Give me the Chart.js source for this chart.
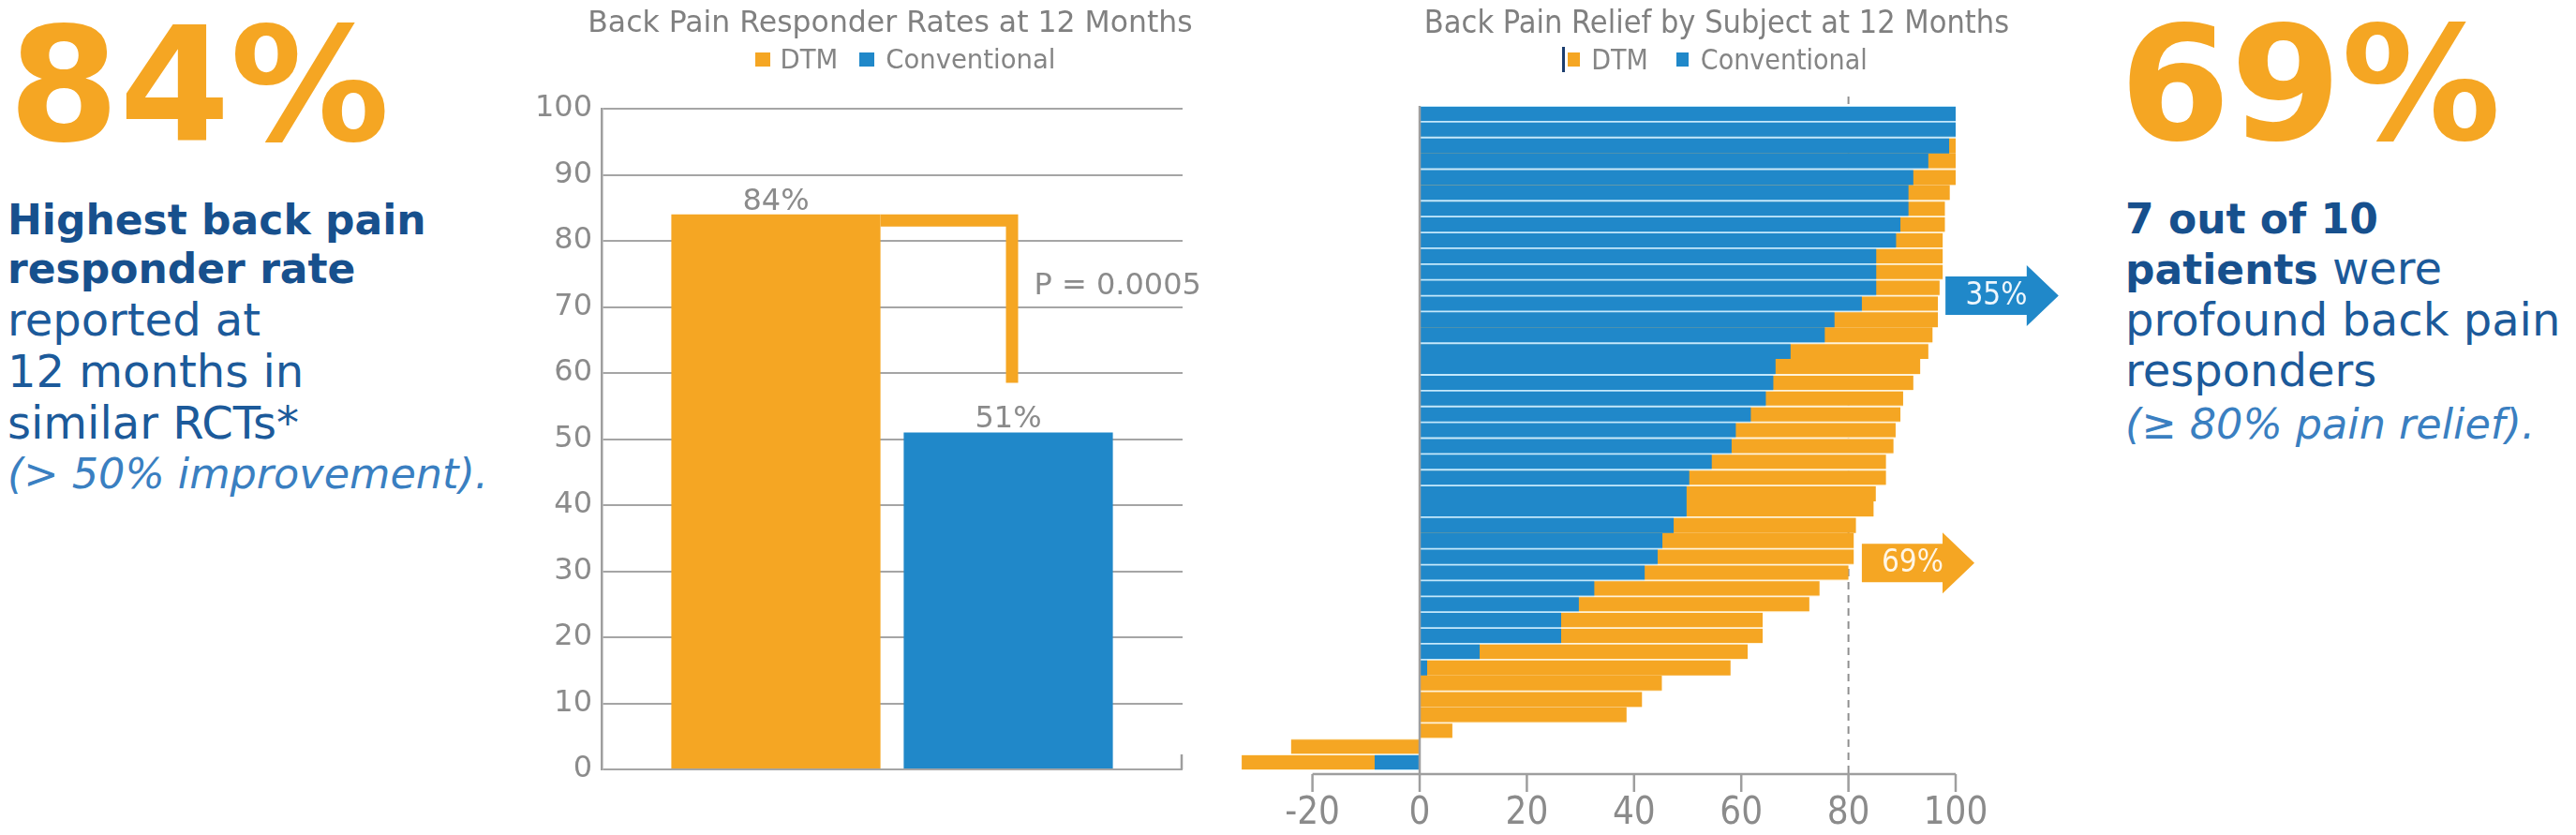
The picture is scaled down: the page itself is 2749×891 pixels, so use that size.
<!DOCTYPE html>
<html>
<head>
<meta charset="utf-8">
<title>Back pain responder rates and relief by subject</title>
<script src="https://cdn.jsdelivr.net/npm/chart.js@4.4.1/dist/chart.umd.min.js"></script>
<style>
  html, body { margin: 0; padding: 0; background: #fff; }
  body { position: relative; width: 2749px; height: 891px; overflow: hidden; font-family: 'DejaVu Sans', sans-serif; }
  .abs { position: absolute; white-space: nowrap; z-index: 2; }
  .big { font-weight: bold; font-size: 170px; line-height: 170px; color: #f5a623; }
  .b { font-weight: bold; font-size: 44px; line-height: 44px; color: #17508d; }
  .r { font-size: 48px; line-height: 48px; color: #1c5a9a; }
  .r .b { font-size: 44px; }
  .i { font-style: italic; font-size: 44.5px; line-height: 44.5px; color: #3a7fc1; }
  .title { color: #808080; text-align: center; }
  .legend { display: flex; justify-content: center; align-items: center; height: 30px; color: #858585; }
  .sq { display: inline-block; }
  canvas { position: absolute; top: 0; z-index: 1; }
</style>
</head>
<body>

<!-- left call-out -->
<div class="abs big" style="left:9px; top:6px;">84%</div>
<div class="abs b" style="left:8px; top:213px;">Highest back pain</div>
<div class="abs b" style="left:8px; top:265px;">responder rate</div>
<div class="abs r" style="left:8px; top:317px;">reported at</div>
<div class="abs r" style="left:8px; top:372px;">12 months in</div>
<div class="abs r" style="left:8px; top:427px;">similar RCTs*</div>
<div class="abs i" style="left:8px; top:484px;">(&gt; 50% improvement).</div>

<!-- chart 1 heading -->
<div class="abs title" style="left:560px; width:780px; top:8px; font-size:31.5px; line-height:31.5px;">Back Pain Responder Rates at 12 Months</div>
<div class="abs legend" style="left:566px; width:800px; top:48px; font-size:27.5px;">
  <span class="sq" style="width:16px; height:15px; background:#f5a623;"></span>
  <span style="margin-left:11px;">DTM</span>
  <span class="sq" style="width:16px; height:15px; background:#2088c9; margin-left:23px;"></span>
  <span style="margin-left:12px;">Conventional</span>
</div>

<!-- chart 2 heading -->
<div class="abs title" style="left:1432px; width:800px; top:6px; font-family:'DejaVu Sans Condensed', 'DejaVu Sans', sans-serif; font-size:34px; line-height:34px;">Back Pain Relief by Subject at 12 Months</div>
<div class="abs legend" style="left:1430px; width:800px; top:48px; font-family:'DejaVu Sans Condensed', 'DejaVu Sans', sans-serif; font-size:30px;">
  <span class="sq" style="width:3px; height:27px; background:#1b3d6e;"></span>
  <span class="sq" style="width:13px; height:15px; background:#f5a623; margin-left:3px;"></span>
  <span style="margin-left:12px;">DTM</span>
  <span class="sq" style="width:13px; height:15px; background:#2088c9; margin-left:30px;"></span>
  <span style="margin-left:13px;">Conventional</span>
</div>

<!-- right call-out -->
<div class="abs big" style="left:2262px; top:5px;">69%</div>
<div class="abs b" style="left:2268px; top:212px;">7 out of 10</div>
<div class="abs r" style="left:2268px; top:262px;"><span class="b">patients</span> were</div>
<div class="abs r" style="left:2268px; top:317px;">profound back pain</div>
<div class="abs r" style="left:2268px; top:371px;">responders</div>
<div class="abs i" style="left:2268px; top:431px;">(≥ 80% pain relief).</div>

<canvas id="responderChart" width="760" height="891" style="left:560px;"></canvas>
<canvas id="reliefChart" width="950" height="891" style="left:1300px;"></canvas>

<script>
// ---- data: responder rates ----
const responderGroups = ['12 Months'];
const responderDTM = [84];
const responderConventional = [51];
const responderTicks = [0, 10, 20, 30, 40, 50, 60, 70, 80, 90, 100];
const pValueText = 'P = 0.0005';

// ---- data: relief by subject (rows top to bottom, % relief) ----
const reliefDTM = [
  100, 100, 100, 100, 100, 98.9, 98.0, 98.0, 97.6, 97.6,
  97.6, 97.0, 96.7, 96.7, 95.7, 94.9, 93.4, 92.1, 90.2, 89.7,
  88.8, 88.4, 87.0, 87.0, 85.1, 84.7, 81.4, 81.0, 81.0, 80.0,
  74.6, 72.7, 64.0, 64.0, 61.2, 58.0, 45.2, 41.5, 38.6, 6.1,
  -24.0, -33.2
];
const reliefConventional = [
  100, 100, 98.8, 94.9, 92.1, 91.2, 91.2, 89.7, 88.9, 85.2,
  85.2, 85.2, 82.5, 77.4, 75.6, 69.2, 66.4, 66.0, 64.6, 61.8,
  59.0, 58.2, 54.5, 50.3, 49.8, 49.8, 47.4, 45.3, 44.4, 42.0,
  32.6, 29.7, 26.4, 26.4, 11.2, 1.4, 0, 0, 0, 0,
  0, -8.4
];
const subjectLabels = reliefDTM.map((_, i) => 'Subject ' + (i + 1));
const reliefTicks = [-20, 0, 20, 40, 60, 80, 100];
const profoundThreshold = 80;
const conventionalShare = '35%';
const dtmShare = '69%';

// ---- styles ----
const ORANGE = '#f5a623';
const BLUE = '#2088c9';
const GREY_TEXT = '#8b8b8b';
const GREY_LINE = '#9e9e9e';

// rows (1-based) drawn flush against the row below, as in the original figure
const joinedRows = [3, 5, 14, 16, 25, 27, 36, 38];
const ROW_GAP = 1.25;

function rowBorder(ctx) {
  const row = ctx.dataIndex + 1;
  return {
    top: joinedRows.includes(row - 1) ? 0 : ROW_GAP,
    bottom: joinedRows.includes(row) ? 0 : ROW_GAP,
    left: 0,
    right: 0
  };
}

// bracket, value labels and p-value on the responder chart
const responderAnnotations = {
  id: 'responderAnnotations',
  afterDatasetsDraw(chart) {
    const { ctx, chartArea, scales: { y } } = chart;
    const dtmBar = chart.getDatasetMeta(0).data[0];
    const convBar = chart.getDatasetMeta(1).data[0];

    ctx.save();
    ctx.font = '32px "DejaVu Sans"';
    ctx.fillStyle = GREY_TEXT;
    ctx.textAlign = 'center';
    ctx.textBaseline = 'alphabetic';
    ctx.fillText(responderDTM[0] + '%', dtmBar.x, dtmBar.y - 5);
    ctx.fillText(responderConventional[0] + '%', convBar.x, convBar.y - 5);

    const lw = 13;
    const top = y.getPixelForValue(responderDTM[0]);
    const bottom = y.getPixelForValue(responderConventional[0] + 7.5);
    const vx = convBar.x + 4;
    ctx.strokeStyle = ORANGE;
    ctx.lineWidth = lw;
    ctx.lineJoin = 'miter';
    ctx.lineCap = 'butt';
    ctx.beginPath();
    ctx.moveTo(dtmBar.x + dtmBar.width / 2, top + lw / 2);
    ctx.lineTo(vx, top + lw / 2);
    ctx.lineTo(vx, bottom);
    ctx.stroke();

    ctx.textAlign = 'left';
    ctx.fillText(pValueText, vx + lw / 2 + 17, (top + bottom) / 2 - 5);

    // small end tick on the baseline
    ctx.strokeStyle = GREY_LINE;
    ctx.lineWidth = 2.5;
    ctx.beginPath();
    ctx.moveTo(chartArea.right - 1, chartArea.bottom);
    ctx.lineTo(chartArea.right - 1, chartArea.bottom - 16);
    ctx.stroke();
    ctx.restore();
  }
};

function drawArrow(ctx, x0, x1, yc, fill, text, textColor) {
  const bodyH = 41, headH = 65, headL = 34;
  ctx.fillStyle = fill;
  ctx.beginPath();
  ctx.moveTo(x0, yc - bodyH / 2);
  ctx.lineTo(x1 - headL, yc - bodyH / 2);
  ctx.lineTo(x1 - headL, yc - headH / 2);
  ctx.lineTo(x1, yc);
  ctx.lineTo(x1 - headL, yc + headH / 2);
  ctx.lineTo(x1 - headL, yc + bodyH / 2);
  ctx.lineTo(x0, yc + bodyH / 2);
  ctx.closePath();
  ctx.fill();
  ctx.fillStyle = textColor;
  ctx.font = '33px "DejaVu Sans Condensed", "DejaVu Sans"';
  ctx.textAlign = 'center';
  ctx.textBaseline = 'middle';
  ctx.fillText(text, x0 + (x1 - x0) * 0.45, yc + 1);
}

// threshold line, axes and share arrows on the per-subject chart
const reliefAnnotations = {
  id: 'reliefAnnotations',
  beforeDatasetsDraw(chart) {
    const { ctx, chartArea, scales: { x } } = chart;
    const px = x.getPixelForValue(profoundThreshold);
    ctx.save();
    ctx.strokeStyle = '#8f8f8f';
    ctx.lineWidth = 2;
    ctx.setLineDash([8, 6]);
    ctx.beginPath();
    ctx.moveTo(px, chartArea.top - 10);
    ctx.lineTo(px, chartArea.bottom + 4);
    ctx.stroke();
    ctx.restore();
  },
  afterDatasetsDraw(chart) {
    const { ctx, chartArea, scales: { x, y } } = chart;
    const axisY = chartArea.bottom + 4;
    ctx.save();
    ctx.strokeStyle = GREY_LINE;
    ctx.lineWidth = 2.5;
    ctx.beginPath();
    ctx.moveTo(x.getPixelForValue(0), chartArea.top);
    ctx.lineTo(x.getPixelForValue(0), axisY);
    ctx.moveTo(x.getPixelForValue(reliefTicks[0]), axisY);
    ctx.lineTo(x.getPixelForValue(reliefTicks[reliefTicks.length - 1]), axisY);
    reliefTicks.forEach(v => {
      const px = x.getPixelForValue(v);
      ctx.moveTo(px, axisY);
      ctx.lineTo(px, axisY + 19);
    });
    ctx.stroke();

    drawArrow(ctx, x.getPixelForValue(98.1), x.getPixelForValue(119.2), y.getPixelForValue(11.5),
      BLUE, conventionalShare, '#eef7fd');
    drawArrow(ctx, x.getPixelForValue(82.5), x.getPixelForValue(103.5), y.getPixelForValue(28.4),
      ORANGE, dtmShare, '#fff6e6');
    ctx.restore();
  }
};

new Chart(document.getElementById('responderChart'), {
  type: 'bar',
  data: {
    labels: responderGroups,
    datasets: [
      { label: 'DTM', data: responderDTM, backgroundColor: ORANGE },
      { label: 'Conventional', data: responderConventional, backgroundColor: BLUE }
    ]
  },
  options: {
    responsive: false,
    animation: false,
    layout: { padding: { top: 116, bottom: 70, left: 0, right: 58 } },
    plugins: { legend: { display: false }, tooltip: { enabled: false } },
    scales: {
      x: { display: false },
      y: {
        min: 0,
        max: 100,
        afterBuildTicks: s => { s.ticks = responderTicks.map(v => ({ value: v })); },
        afterFit: s => { s.width = 82; },
        ticks: { padding: 10, color: GREY_TEXT, font: { family: 'DejaVu Sans', size: 32 } },
        grid: { color: '#a5a5a5', lineWidth: 2, drawTicks: false },
        border: { color: GREY_LINE, width: 2.5 }
      }
    }
  },
  plugins: [responderAnnotations]
});

new Chart(document.getElementById('reliefChart'), {
  type: 'bar',
  data: {
    labels: subjectLabels,
    datasets: [
      { label: 'DTM', data: reliefDTM, backgroundColor: ORANGE, borderColor: '#fff3da', order: 1 },
      { label: 'Conventional', data: reliefConventional, backgroundColor: BLUE, borderColor: '#c4e8fb', order: 0 }
    ]
  },
  options: {
    indexAxis: 'y',
    responsive: false,
    animation: false,
    layout: { padding: { top: 113, bottom: 0, left: 14.8, right: 163 } },
    datasets: {
      bar: { grouped: false, barPercentage: 1, categoryPercentage: 1, borderSkipped: false, borderWidth: rowBorder }
    },
    plugins: { legend: { display: false }, tooltip: { enabled: false } },
    scales: {
      y: { display: false },
      x: {
        min: -35,
        max: 100,
        afterBuildTicks: s => { s.ticks = reliefTicks.map(v => ({ value: v })); },
        afterFit: s => { s.height = 69; },
        grid: { display: false, drawTicks: true, tickLength: 23 },
        border: { display: false },
        ticks: { padding: 0, color: GREY_TEXT, font: { family: 'DejaVu Sans Condensed', size: 40 } }
      }
    }
  },
  plugins: [reliefAnnotations]
});
</script>
</body>
</html>
